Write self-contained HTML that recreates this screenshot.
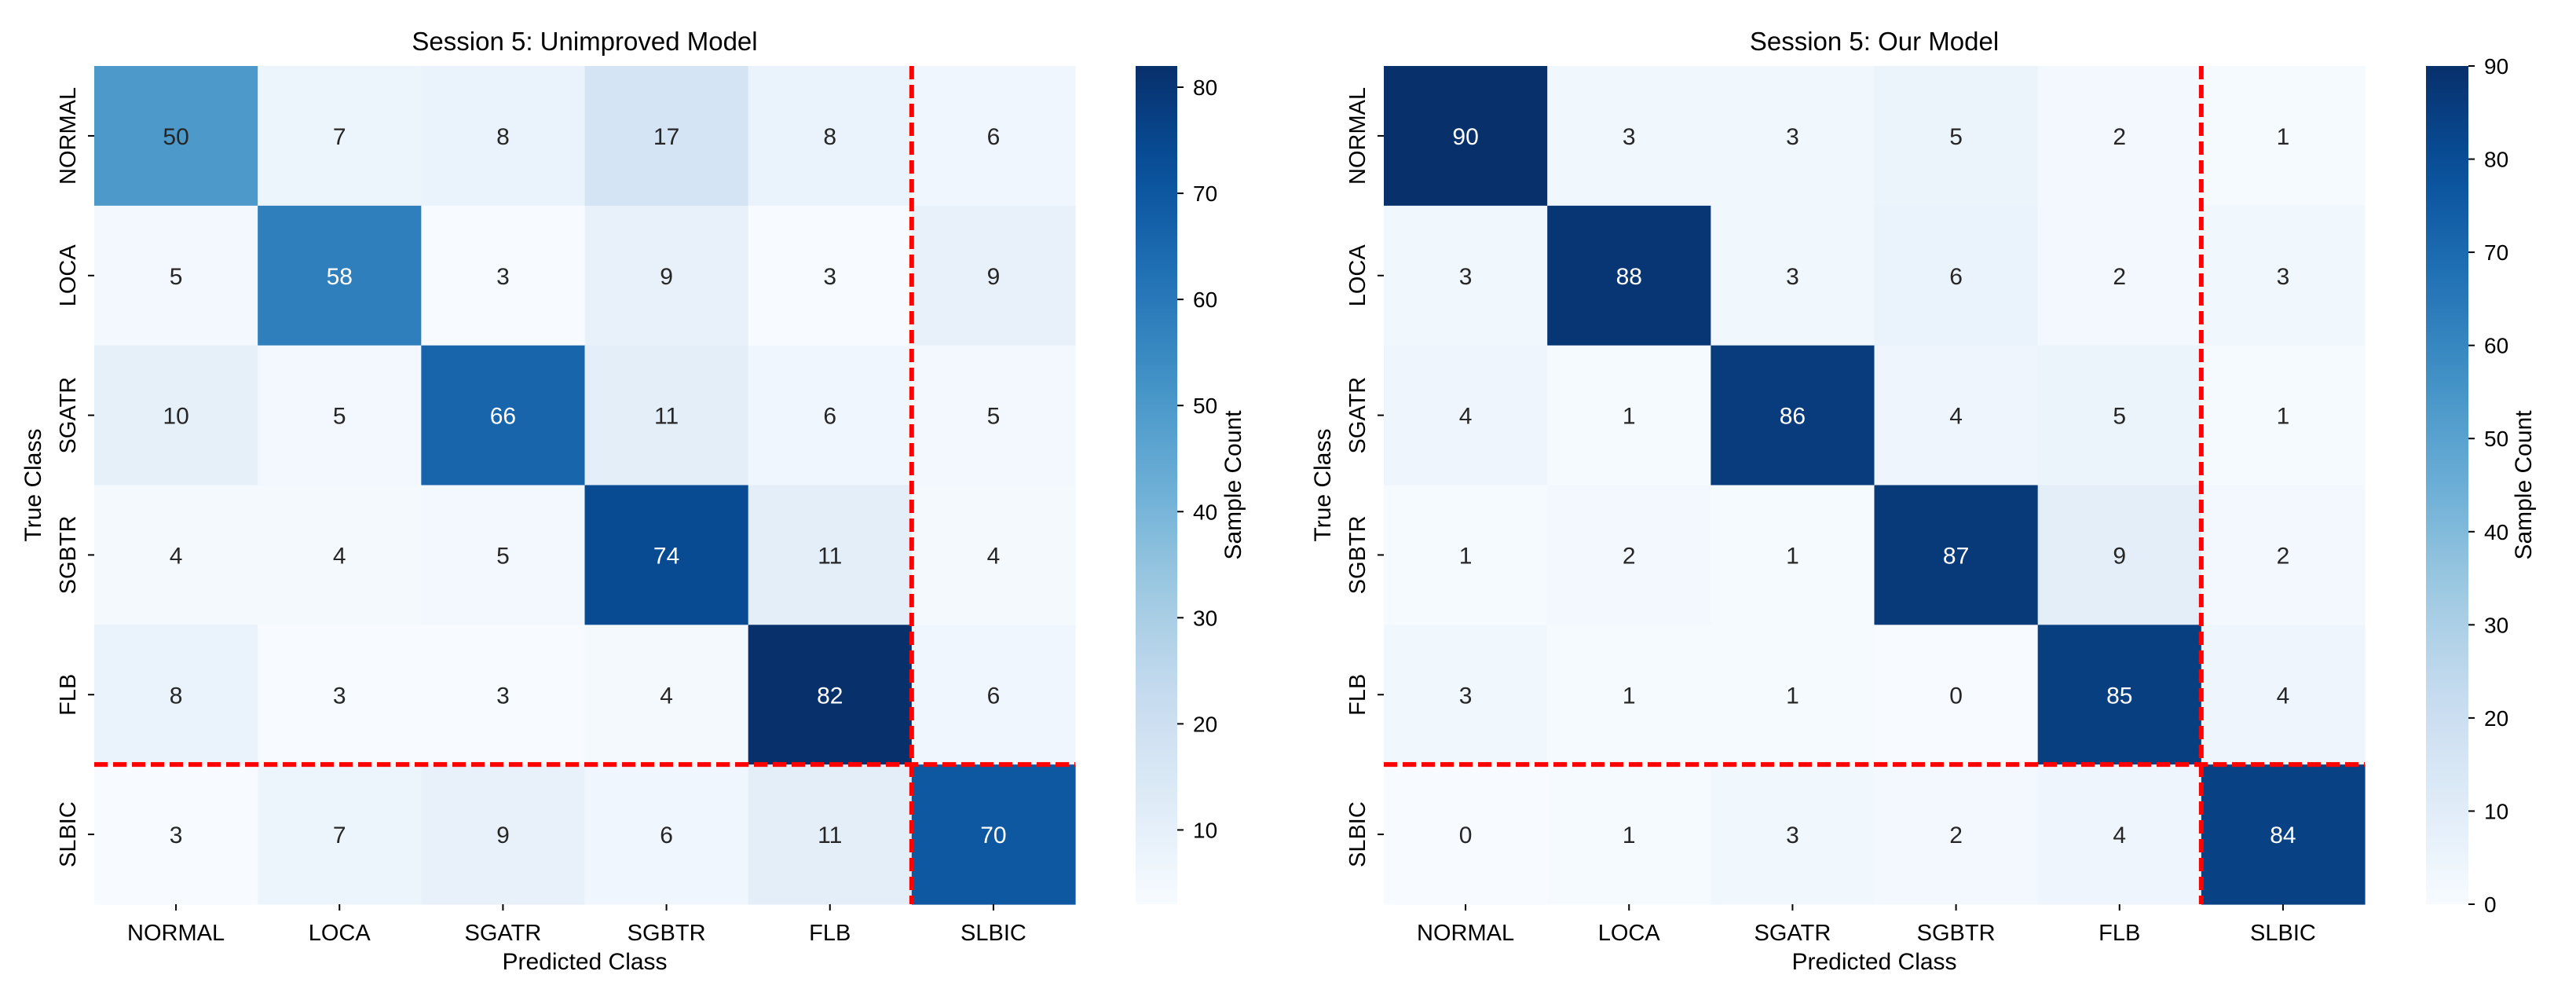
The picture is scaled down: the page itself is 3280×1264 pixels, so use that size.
<!DOCTYPE html>
<html><head><meta charset="utf-8">
<style>
html,body{margin:0;padding:0;background:#fff;}
svg{display:block;font-family:"Liberation Sans","DejaVu Sans",sans-serif;}
</style></head>
<body>
<svg id="fig" width="3280" height="1264" viewBox="0 0 3280 1264" xmlns="http://www.w3.org/2000/svg"></svg>
<script>
const classes = ["NORMAL","LOCA","SGATR","SGBTR","FLB","SLBIC"];
const valuesUnimproved = [
  [50,7,8,17,8,6],
  [5,58,3,9,3,9],
  [10,5,66,11,6,5],
  [4,4,5,74,11,4],
  [8,3,3,4,82,6],
  [3,7,9,6,11,70]
];
const valuesOurs = [
  [90,3,3,5,2,1],
  [3,88,3,6,2,3],
  [4,1,86,4,5,1],
  [1,2,1,87,9,2],
  [3,1,1,0,85,4],
  [0,1,3,2,4,84]
];
const ticksUnimproved = [10,20,30,40,50,60,70,80];
const ticksOurs = [0,10,20,30,40,50,60,70,80,90];
const rangeUnimproved = [3,82];
const rangeOurs = [0,90];

const NS = "http://www.w3.org/2000/svg";
const fig = document.getElementById('fig');
const stops = ["#f7fbff","#deebf7","#c6dbef","#9ecae1","#6baed6","#4292c6","#2171b5","#08519c","#08306b"];
function hex(h){return [1,3,5].map(i=>parseInt(h.substr(i,2),16));}
const stopRGB = stops.map(hex);
function blues(t){
  t=Math.max(0,Math.min(1,t));
  const p=t*8, i=Math.min(7,Math.floor(p)), f=p-i;
  const a=stopRGB[i], b=stopRGB[i+1];
  return a.map((v,k)=>Math.round(v+(b[k]-v)*f));
}
function mk(tag, attrs, parent){
  const e=document.createElementNS(NS,tag);
  for(const k in attrs) e.setAttribute(k,attrs[k]);
  (parent||fig).appendChild(e); return e;
}
function txt(s, attrs, parent){const e=mk('text',attrs,parent); e.textContent=s; return e;}

function drawPanel(cfg){
  const {x0,x1,y0,y1,cb0,cb1,vals,range,ticks,title,prefix}=cfg;
  const g=mk('g',{});
  
  
  const n=classes.length, cw=(x1-x0)/n, ch=(y1-y0)/n;
  const xs=i=>x0+i*cw, ys=i=>y0+i*ch;
  const norm=v=>(v-range[0])/(range[1]-range[0]);
  for(let r=0;r<n;r++){for(let c=0;c<n;c++){
    const v=vals[r][c], rgb=blues(norm(v));
    const rect=mk('rect',{x:xs(c),y:ys(r),width:cw+0.6,height:ch+0.6,fill:`rgb(${rgb.join(',')})`},g);
    
    
    const lum=(0.2126*rgb[0]+0.7152*rgb[1]+0.0722*rgb[2])/255;
    const t=txt(String(v),{x:xs(c)+cw/2,y:ys(r)+ch/2+11,'text-anchor':'middle','font-size':30,fill:lum<0.45?'#fff':'#262626'},g);
    
    
  }}
  const hl=mk('line',{x1:x0,x2:x1,y1:ys(5),y2:ys(5),stroke:'#ff0000','stroke-width':6,'stroke-dasharray':'17 7'},g);
  
  
  const vl=mk('line',{x1:xs(5),x2:xs(5),y1:y0,y2:y1,stroke:'#ff0000','stroke-width':6,'stroke-dasharray':'17 7'},g);
  
  
  classes.forEach((c,i)=>{
    const cx=xs(i)+cw/2, cy=ys(i)+ch/2;
    mk('line',{x1:cx,x2:cx,y1:y1,y2:y1+8,stroke:'#000','stroke-width':2},g);
    const xl=txt(c,{x:cx,y:y1+46,'text-anchor':'middle','font-size':29,fill:'#000'},g);
    
    
    mk('line',{x1:x0-8,x2:x0,y1:cy,y2:cy,stroke:'#000','stroke-width':2},g);
    const yl=txt(c,{x:x0-24,y:cy,'text-anchor':'middle','font-size':29,fill:'#000',transform:`rotate(-90 ${x0-24} ${cy})`},g);
    
    
  });
  const tt=txt(title,{x:(x0+x1)/2,y:64,'text-anchor':'middle','font-size':33,fill:'#000'},g);
  
  
  const xt=txt('Predicted Class',{x:(x0+x1)/2,y:1234,'text-anchor':'middle','font-size':30,fill:'#000'},g);
  
  
  const ytx=x0-68, ytyc=(y0+y1)/2;
  const yt=txt('True Class',{x:ytx,y:ytyc,'text-anchor':'middle','font-size':30,fill:'#000',transform:`rotate(-90 ${ytx} ${ytyc})`},g);
  
  
  const gid=prefix+'-grad';
  const defs=mk('defs',{},g);
  const lg=mk('linearGradient',{id:gid,x1:0,y1:1,x2:0,y2:0},defs);
  for(let k=0;k<=20;k++){const rgb=blues(k/20); mk('stop',{offset:k/20,'stop-color':`rgb(${rgb.join(',')})`},lg);}
  const cb=mk('rect',{x:cb0,y:y0,width:cb1-cb0,height:y1-y0,fill:`url(#${gid})`},g);
  
  
  const cy=v=>y1-(v-range[0])/(range[1]-range[0])*(y1-y0);
  ticks.forEach(v=>{
    mk('line',{x1:cb1,x2:cb1+8,y1:cy(v),y2:cy(v),stroke:'#000','stroke-width':2},g);
    const l=txt(String(v),{x:cb1+20,y:cy(v)+10,'font-size':28,fill:'#000'},g);
    
    
  });
  const lx=cb0+134, ly=(y0+y1)/2;
  const cl=txt('Sample Count',{x:lx,y:ly,'text-anchor':'middle','font-size':30,fill:'#000',transform:`rotate(-90 ${lx} ${ly})`},g);
  
  
}
drawPanel({x0:120,x1:1369,y0:84,y1:1151,cb0:1446,cb1:1499,vals:valuesUnimproved,range:rangeUnimproved,ticks:ticksUnimproved,title:'Session 5: Unimproved Model',prefix:'unimproved'});
drawPanel({x0:1762,x1:3011,y0:84,y1:1151,cb0:3089,cb1:3143,vals:valuesOurs,range:rangeOurs,ticks:ticksOurs,title:'Session 5: Our Model',prefix:'ours'});
</script>
</body></html>
